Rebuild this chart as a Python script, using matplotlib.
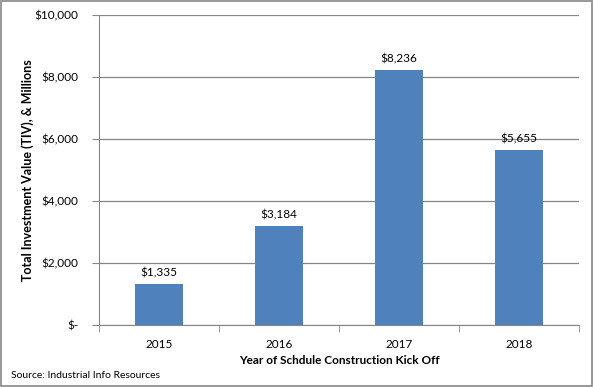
import numpy as np
import matplotlib.pyplot as plt
from matplotlib.patches import Rectangle

years = ["2015", "2016", "2017", "2018"]
tiv = [1335, 3184, 8236, 5655]
yticks = [0, 2000, 4000, 6000, 8000, 10000]
ytick_labels = ["$-", "$2,000", "$4,000", "$6,000", "$8,000", "$10,000"]

plt.rcParams['font.family'] = ['Lato', 'DejaVu Sans']
grey = "#868686"
blue = "#4F81BD"

fig = plt.figure(figsize=(5.94, 3.87), dpi=100)
ax = fig.add_axes([99/594, 62/387, 480/594, 310/387])

x = np.arange(len(years))
ax.bar(x, tiv, width=0.4, color=blue, zorder=3)
for xi, v in zip(x, tiv):
    ax.text(xi, v + 180, "${:,}".format(v), ha="center", va="bottom", fontsize=8.5, color="black")

ax.set_xlim(-0.5, len(years) - 0.5)
ax.set_ylim(0, 10000)
ax.set_yticks(yticks)
ax.set_yticklabels(ytick_labels, fontsize=8.5)
ax.set_xticks(x)
ax.set_xticklabels(years, fontsize=8.5)
ax.set_xticks(np.arange(-0.5, len(years)), minor=True)
ax.tick_params(axis="x", which="major", length=0, pad=10)
ax.tick_params(axis="x", which="minor", length=5, color=grey, direction="out")
ax.tick_params(axis="y", length=5, color=grey, pad=10)
ax.grid(axis="y", color=grey, linewidth=0.9, zorder=0)

for s in ["top", "right"]:
    ax.spines[s].set_visible(False)
ax.spines["left"].set_color(grey)
ax.spines["bottom"].set_color(grey)

ax.set_ylabel("Total Investment Value (TIV), & Millions", fontsize=9, fontweight="bold", labelpad=0)
ax.set_xlabel("Year of Schdule Construction Kick Off", fontsize=8.5, fontweight="bold", labelpad=4)

fig.text(11/594, 1 - 375/387, "Source: Industrial Info Resources", fontsize=7.5, va="center")
fig.patches.append(Rectangle((0.002, 0.003), 0.995, 0.994, transform=fig.transFigure,
                             fill=False, edgecolor=grey, linewidth=1.2))

fig.savefig("out.png", dpi=100)
